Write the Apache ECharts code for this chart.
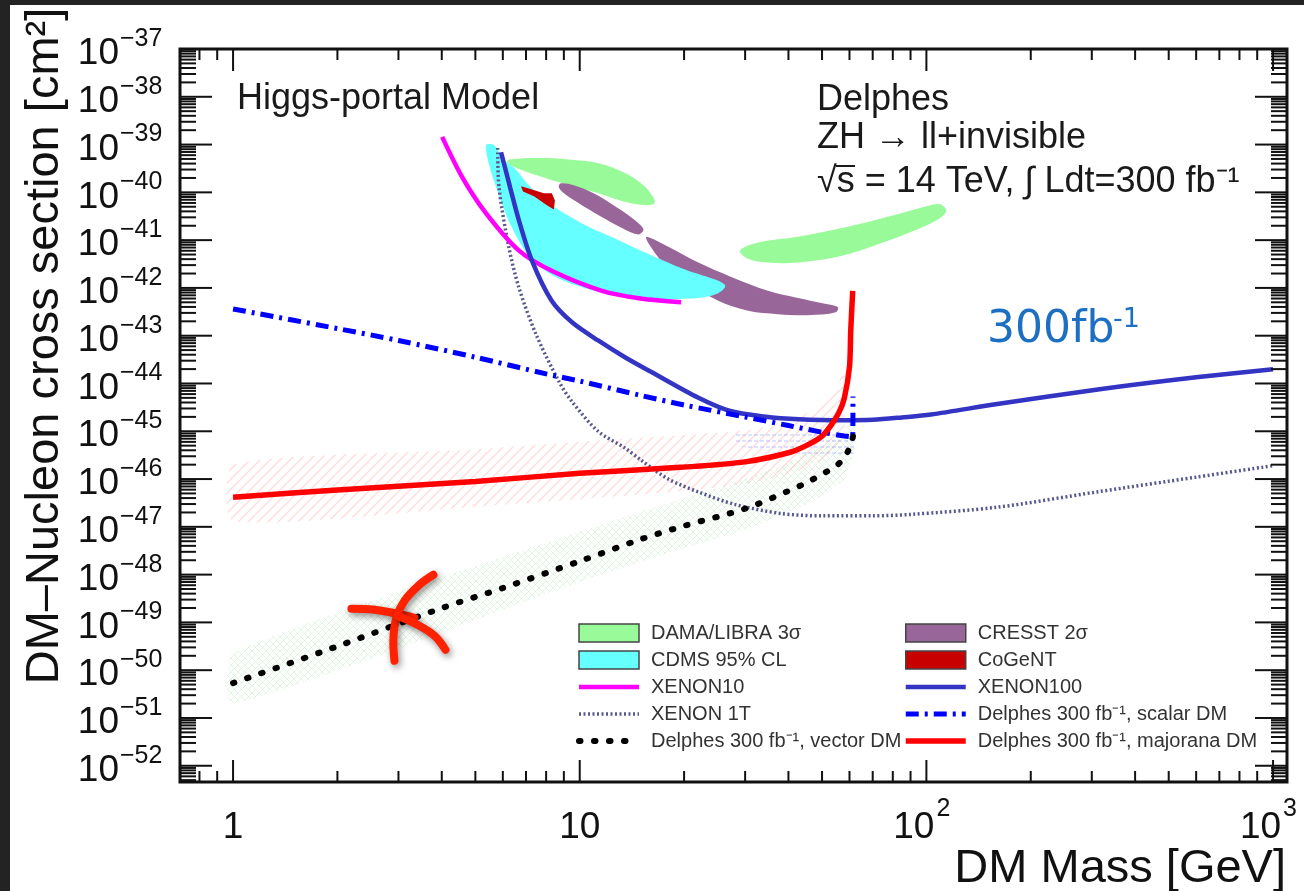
<!DOCTYPE html>
<html>
<head>
<meta charset="utf-8">
<script src="https://cdn.jsdelivr.net/npm/echarts@6/dist/echarts.min.js"></script>
<style>
  html, body { margin: 0; padding: 0; background: #fff; }
  #chart { width: 1304px; height: 891px; }
</style>
</head>
<body>
<div id="chart"></div>
<script>
// Masses in GeV, cross sections stored as log10(sigma / cm^2).

// XENON10 limit
const xenon10Mass = [4.01, 4.58, 5.37, 6.68, 8.3, 11.6, 15, 19.6];
const xenon10Log = [-38.84, -39.68, -40.44, -41.22, -41.64, -42.06, -42.22, -42.3];

// XENON100 limit
const xenon100Mass = [5.93, 6.3, 6.68, 7.28, 8.3, 9.5, 11.3, 13.5, 16, 22, 27, 34, 43, 58, 70, 85, 103, 160, 316, 600, 1000];
const xenon100Log = [-39.16, -39.9, -40.59, -41.43, -42.27, -42.72, -43.1, -43.45, -43.75, -44.3, -44.57, -44.69, -44.75, -44.77, -44.76, -44.71, -44.65, -44.43, -44.12, -43.87, -43.7];

// XENON 1T projection
const xenon1tMass = [5.8, 5.85, 6.25, 6.68, 7.48, 8.7, 9.5, 11.3, 13.5, 15, 18, 22, 28, 38, 50, 70, 90, 160, 310, 600, 1000];
const xenon1tLog = [-39.07, -39.9, -41.16, -42.0, -42.97, -43.95, -44.38, -45.0, -45.35, -45.6, -46.0, -46.27, -46.53, -46.72, -46.77, -46.77, -46.74, -46.59, -46.27, -45.96, -45.72];

// Delphes 300 fb^-1, scalar DM
const scalarMass = [1, 2, 3, 5, 8, 10, 15, 20, 30, 40, 50, 58, 61.3, 61.4];
const scalarLog = [-42.44, -42.85, -43.1, -43.45, -43.8, -43.95, -44.25, -44.45, -44.7, -44.88, -45.02, -45.1, -45.12, -44.27];

// Delphes 300 fb^-1, vector DM
const vectorMass = [1, 2, 4, 6, 10, 15, 20, 30, 40, 45, 50, 55, 58, 60, 61, 62];
const vectorLog = [-50.27, -49.5, -48.7, -48.28, -47.72, -47.26, -46.98, -46.62, -46.25, -46.08, -45.9, -45.72, -45.55, -45.35, -45.2, -44.95];

// Delphes 300 fb^-1, majorana DM
const majoranaMass = [1, 2, 5, 10, 20, 30, 40, 45, 50, 53, 56, 58, 60, 60.5, 61.3];
const majoranaLog = [-46.38, -46.23, -46.05, -45.88, -45.75, -45.64, -45.45, -45.3, -45.1, -44.88, -44.6, -44.3, -43.65, -42.9, -42.06];

// Uncertainty bands, outlines as [mass, log10 sigma]
const majoranaBand = [[1, -45.7], [5, -45.38], [10, -45.22], [20, -45.08], [30, -44.98], [40, -44.8], [50, -44.45], [55, -44.1], [58, -43.7],
                      [58, -44.9], [55, -45.35], [50, -45.6], [40, -45.9], [30, -46.1], [20, -46.25], [10, -46.42], [5, -46.58], [1, -46.88]];
const vectorBand = [[1, -49.65], [10, -47.1], [20, -46.4], [30, -46.0], [40, -45.65], [50, -45.3], [58, -45.0], [62, -44.6],
                    [62, -45.3], [58, -46.0], [50, -46.35], [40, -46.7], [30, -47.05], [20, -47.45], [10, -48.15], [1, -50.7]];
const scalarBand = [[28, -44.98], [40, -45.0], [50, -45.05], [62, -45.05], [62, -45.55], [50, -45.55], [40, -45.5], [28, -45.3]];

// Signal regions
const damaLow = [[6.25, -39.31], [7.63, -39.28], [9.3, -39.31], [11.34, -39.39], [13.37, -39.58], [15.27, -39.85], [16.32, -40.11], [16.43, -40.23],
                 [15.58, -40.27], [13.37, -40.19], [11.34, -40.02], [9.3, -39.85], [7.63, -39.66], [6.46, -39.47], [6.17, -39.37]];
const damaHigh = [[29.0, -41.22], [32.7, -41.05], [42.6, -40.93], [59.3, -40.72], [82.5, -40.46], [100, -40.29], [109.6, -40.25], [114.1, -40.38],
                  [108.9, -40.55], [89.4, -40.84], [72.3, -41.09], [55.5, -41.35], [42.6, -41.47], [34.9, -41.47], [30.6, -41.39]];
const cdmsRegion = [[5.37, -39.01], [5.66, -39.01], [6.05, -39.33], [6.48, -39.49], [7.13, -39.85], [8.31, -40.27], [10.4, -40.69], [12.94, -41.0],
                    [15.8, -41.29], [20.2, -41.62], [25.1, -41.85], [26.3, -41.96], [25.1, -42.11], [22.0, -42.21], [16.9, -42.23], [12.9, -42.15],
                    [10.3, -42.0], [8.42, -41.75], [7.13, -41.33], [6.33, -40.69], [5.85, -40.06], [5.48, -39.43]];
const cresstLow = [[8.82, -39.81], [9.61, -39.85], [10.97, -40.02], [12.94, -40.34], [14.58, -40.61], [15.27, -40.78], [14.78, -40.88],
                   [13.37, -40.76], [11.34, -40.48], [9.94, -40.23], [9.0, -40.02], [8.7, -39.89]];
const cresstHigh = [[15.58, -40.93], [18.02, -41.14], [21.98, -41.47], [27.35, -41.77], [34.93, -42.06], [42.6, -42.21], [50.2, -42.32], [55.5, -42.4],
                    [54.8, -42.51], [45.5, -42.57], [37.3, -42.55], [30.6, -42.48], [25.1, -42.27], [20.6, -41.89], [17.4, -41.47], [15.8, -41.07]];
const cogentRegion = [[6.77, -39.87], [7.13, -39.92], [7.88, -40.02], [8.31, -40.02], [8.48, -40.17], [8.42, -40.36], [8.04, -40.27], [7.38, -40.08], [6.86, -39.98]];

// Axis ranges and tick labels
const massRange = [0.703, 1097];
const logXsRange = [-52.34, -37];
const xTickValues = [1, 10, 100, 1000];
const xTickBase = ['1', '10', '10', '10'];
const xTickSup = ['', '', '2', '3'];
const yTickExponents = [-37, -38, -39, -40, -41, -42, -43, -44, -45, -46, -47, -48, -49, -50, -51, -52];

// Hand-marked point on the vector DM curve
const markMass = 2.96;
const markLog = -48.84;

const pow10 = e => Math.pow(10, e);
const toXY = (mass, logs) => mass.map((m, i) => [m, pow10(logs[i])]);
const FONT = '"Liberation Sans", Arial, Helvetica, sans-serif';

function hatchPattern(color, kind, size, width) {
  const c = document.createElement('canvas');
  c.width = size; c.height = size;
  const g = c.getContext('2d');
  g.strokeStyle = color;
  g.lineWidth = width;
  g.beginPath();
  if (kind === 'diag' || kind === 'cross') {
    g.moveTo(0, size); g.lineTo(size, 0);
    g.moveTo(-size / 2, size / 2); g.lineTo(size / 2, -size / 2);
    g.moveTo(size / 2, size * 1.5); g.lineTo(size * 1.5, size / 2);
  }
  if (kind === 'cross') {
    g.moveTo(0, 0); g.lineTo(size, size);
    g.moveTo(-size / 2, size / 2); g.lineTo(size / 2, size * 1.5);
    g.moveTo(size / 2, -size / 2); g.lineTo(size * 1.5, size / 2);
  }
  if (kind === 'hdot') {
    g.setLineDash([2, 2]);
    g.moveTo(0, size / 2); g.lineTo(size, size / 2);
  }
  g.stroke();
  return { image: c, repeat: 'repeat' };
}

const pinkHatch = hatchPattern('rgba(255,140,140,0.3)', 'diag', 10, 1.4);
const greenHatch = hatchPattern('rgba(140,225,140,0.25)', 'cross', 7, 1);
const blueHatch = hatchPattern('rgba(120,140,255,0.5)', 'hdot', 6, 1);

function regionSeries(name, polygons, fill, smooth, z) {
  return {
    type: 'custom', name, coordinateSystem: 'cartesian2d', silent: true, z,
    data: [[1, 1e-40]],
    itemStyle: { color: typeof fill === 'string' ? fill : '#ccc' },
    renderItem(params, api) {
      return {
        type: 'group',
        children: polygons.map(poly => ({
          type: 'polygon',
          shape: { points: poly.map(p => api.coord([p[0], pow10(p[1])])), smooth },
          style: { fill }
        }))
      };
    }
  };
}

function lineSeries(name, mass, logs, lineStyle, z) {
  return {
    type: 'line', name, z, silent: true,
    data: toXY(mass, logs),
    symbol: 'none', showSymbol: false, smooth: 0.3,
    lineStyle, itemStyle: { color: lineStyle.color }
  };
}

// Axis ticks (inward, both sides) and tick labels, placed through the axis scales
const axisDecor = {
  type: 'custom', name: 'axisDecor', coordinateSystem: 'cartesian2d', silent: true, z: 20,
  data: [[1, 1e-40]],
  renderItem(params, api) {
    const cs = params.coordSys;
    const L = cs.x, R = cs.x + cs.width, T = cs.y, B = cs.y + cs.height;
    const kids = [];
    const tick = (x1, y1, x2, y2) => kids.push({ type: 'line', shape: { x1, y1, x2, y2 }, style: { stroke: '#111', lineWidth: 2 } });
    const yMin = pow10(logXsRange[0]), yMax = pow10(logXsRange[1]);
    for (let e = -53; e <= -37; e++) {
      for (let k = 1; k <= 9; k++) {
        const v = k * pow10(e);
        if (v < yMin || v > yMax * 1.0001) continue;
        const y = api.coord([1, v])[1];
        const len = k === 1 ? 32 : 16;
        tick(L, y, L + len, y);
        tick(R - len, y, R, y);
      }
    }
    for (let e = -1; e <= 3; e++) {
      for (let k = 1; k <= 9; k++) {
        const v = k * pow10(e);
        if (v < massRange[0] || v > massRange[1]) continue;
        const x = api.coord([v, 1e-40])[0];
        const len = k === 1 ? 22 : 11;
        tick(x, B, x, B - len);
        tick(x, T, x, T + len);
      }
    }
    yTickExponents.forEach(e => {
      const y = api.coord([1, pow10(e)])[1];
      kids.push({ type: 'text', style: { text: '10', x: L - 61, y: y + 5, align: 'right', verticalAlign: 'middle', font: '37px ' + FONT, fill: '#111' } });
      kids.push({ type: 'text', style: { text: '\u2212' + Math.abs(e), x: L - 60, y: y - 10, align: 'left', verticalAlign: 'middle', font: '25px ' + FONT, fill: '#111' } });
    });
    xTickValues.forEach((v, i) => {
      const x = api.coord([v, 1e-40])[0];
      if (xTickSup[i]) {
        kids.push({ type: 'text', style: { text: xTickBase[i], x: x + 8, y: B + 46, align: 'right', verticalAlign: 'middle', font: '37px ' + FONT, fill: '#111' } });
        kids.push({ type: 'text', style: { text: xTickSup[i], x: x + 10, y: B + 27, align: 'left', verticalAlign: 'middle', font: '25px ' + FONT, fill: '#111' } });
      } else {
        kids.push({ type: 'text', style: { text: xTickBase[i], x, y: B + 46, align: 'center', verticalAlign: 'middle', font: '37px ' + FONT, fill: '#111' } });
      }
    });
    return { type: 'group', children: kids };
  }
};

// Hand-drawn cross marking a point on the vector DM curve
const markStrokes = [
  [[-45, -6], [-22, -5], [1, -1], [18, 3]],
  [[37, -40], [23, -30], [8, -14], [0, 3], [-3, 23], [-2, 46]],
  [[1, 1], [21, 10], [38, 21], [49, 35]]
];
const markSeries = {
  type: 'custom', name: 'mark', coordinateSystem: 'cartesian2d', silent: true, z: 30,
  data: [[markMass, pow10(markLog)]],
  renderItem(params, api) {
    const c = api.coord([api.value(0), api.value(1)]);
    return {
      type: 'group',
      children: markStrokes.map(s => ({
        type: 'polyline',
        shape: { points: s.map(d => [c[0] + d[0], c[1] + d[1]]), smooth: 0.4 },
        style: { stroke: '#ff2200', lineWidth: 8, lineCap: 'round', lineJoin: 'round', fill: null,
                 shadowBlur: 7, shadowColor: 'rgba(0,0,0,0.45)', shadowOffsetX: 2, shadowOffsetY: 3 }
      }))
    };
  }
};

const legendText = { fontFamily: FONT, fontSize: 20, color: '#333', padding: [0, 0, 0, 7] };
const boxStyle = c => ({ color: c, borderColor: '#444', borderWidth: 1.5 });
const lineItem = name => ({ name, itemStyle: { opacity: 0 } });

const option = {
  animation: false,
  backgroundColor: '#fff',
  grid: { left: 180, top: 49, width: 1107, height: 733, show: true, borderColor: '#111', borderWidth: 3, backgroundColor: 'transparent' },
  xAxis: {
    type: 'log', logBase: 10, min: massRange[0], max: massRange[1],
    axisLine: { show: false }, axisTick: { show: false }, axisLabel: { show: false }, splitLine: { show: false }, minorTick: { show: false }
  },
  yAxis: {
    type: 'log', logBase: 10, min: pow10(logXsRange[0]), max: pow10(logXsRange[1]),
    axisLine: { show: false }, axisTick: { show: false }, axisLabel: { show: false }, splitLine: { show: false }, minorTick: { show: false }
  },
  legend: [
    {
      left: 571, top: 618, orient: 'vertical', itemWidth: 60, itemHeight: 18, itemGap: 7, selectedMode: false, textStyle: legendText,
      lineStyle: { width: 'inherit' },
      data: [
        { name: 'DAMA/LIBRA 3σ', icon: 'rect', itemStyle: boxStyle('#99fa99') },
        { name: 'CDMS 95% CL', icon: 'rect', itemStyle: boxStyle('#66ffff') },
        lineItem('XENON10'), lineItem('XENON 1T'), lineItem('Delphes 300 fb⁻¹, vector DM')
      ]
    },
    {
      left: 898, top: 618, orient: 'vertical', itemWidth: 60, itemHeight: 18, itemGap: 7, selectedMode: false, textStyle: legendText,
      lineStyle: { width: 'inherit' },
      data: [
        { name: 'CRESST 2σ', icon: 'rect', itemStyle: boxStyle('#996699') },
        { name: 'CoGeNT', icon: 'rect', itemStyle: boxStyle('#c80000') },
        lineItem('XENON100'), lineItem('Delphes 300 fb⁻¹, scalar DM'), lineItem('Delphes 300 fb⁻¹, majorana DM')
      ]
    }
  ],
  graphic: [
    { type: 'rect', shape: { x: 0, y: 0, width: 1304, height: 5 }, style: { fill: '#232323' }, z: 100 },
    { type: 'rect', shape: { x: 0, y: 0, width: 10, height: 891 }, style: { fill: '#232323' }, z: 100 },
    { type: 'text', x: 45, y: 346, rotation: Math.PI / 2, style: { text: 'DM–Nucleon cross section [cm²]', font: '47px ' + FONT, fill: '#111', align: 'center', verticalAlign: 'middle' } },
    { type: 'text', x: 1286, y: 869, style: { text: 'DM Mass [GeV]', font: '47px ' + FONT, fill: '#111', align: 'right', verticalAlign: 'middle' } },
    { type: 'text', x: 237, y: 99, style: { text: 'Higgs-portal Model', font: '36px ' + FONT, fill: '#1a1a1a', verticalAlign: 'middle' } },
    { type: 'text', x: 817, y: 100.5, style: { text: 'Delphes', font: '36px ' + FONT, fill: '#1a1a1a', verticalAlign: 'middle' } },
    { type: 'text', x: 817, y: 138.5, style: { text: 'ZH → ll+invisible', font: '36px ' + FONT, fill: '#1a1a1a', verticalAlign: 'middle' } },
    { type: 'text', x: 817, y: 182.5, style: { text: '√s = 14 TeV, ∫ Ldt=300 fb⁻¹', font: '36px ' + FONT, fill: '#1a1a1a', verticalAlign: 'middle' } },
    { type: 'line', shape: { x1: 836, y1: 166, x2: 855, y2: 166 }, style: { stroke: '#1a1a1a', lineWidth: 2 } },
    { type: 'text', x: 987, y: 331, style: { text: '300fb', font: '44px "DejaVu Sans", sans-serif', fill: '#1d6fc2', verticalAlign: 'middle' } },
    { type: 'text', x: 1113, y: 320, style: { text: '-1', font: '27px "DejaVu Sans", sans-serif', fill: '#1d6fc2', verticalAlign: 'middle' } }
  ],
  series: [
    regionSeries('majoranaBand', [majoranaBand], pinkHatch, 0.2, 1),
    regionSeries('vectorBand', [vectorBand], greenHatch, 0.2, 1),
    regionSeries('scalarBand', [scalarBand], blueHatch, 0, 1),
    regionSeries('DAMA/LIBRA 3σ', [damaLow, damaHigh], '#99fa99', 0.35, 2),
    regionSeries('CRESST 2σ', [cresstLow, cresstHigh], '#996699', 0.35, 2),
    regionSeries('CDMS 95% CL', [cdmsRegion], '#66ffff', 0.3, 3),
    regionSeries('CoGeNT', [cogentRegion], '#c80000', 0, 4),
    lineSeries('XENON 1T', xenon1tMass, xenon1tLog, { color: '#58588e', width: 3.5, type: [2, 2.5] }, 5),
    lineSeries('XENON10', xenon10Mass, xenon10Log, { color: '#ff00ff', width: 4.5 }, 6),
    lineSeries('XENON100', xenon100Mass, xenon100Log, { color: '#3333c4', width: 4.5 }, 6),
    lineSeries('Delphes 300 fb⁻¹, scalar DM', scalarMass, scalarLog, { color: '#0000ff', width: 5, type: [13, 6, 3, 6] }, 7),
    lineSeries('Delphes 300 fb⁻¹, vector DM', vectorMass, vectorLog, { color: '#000000', width: 6, type: [1.5, 13.5], cap: 'round' }, 8),
    lineSeries('Delphes 300 fb⁻¹, majorana DM', majoranaMass, majoranaLog, { color: '#ff0000', width: 5.5 }, 9),
    axisDecor,
    markSeries
  ]
};

const chart = echarts.init(document.getElementById('chart'), null, { renderer: 'canvas' });
chart.setOption(option);
</script>
</body>
</html>
